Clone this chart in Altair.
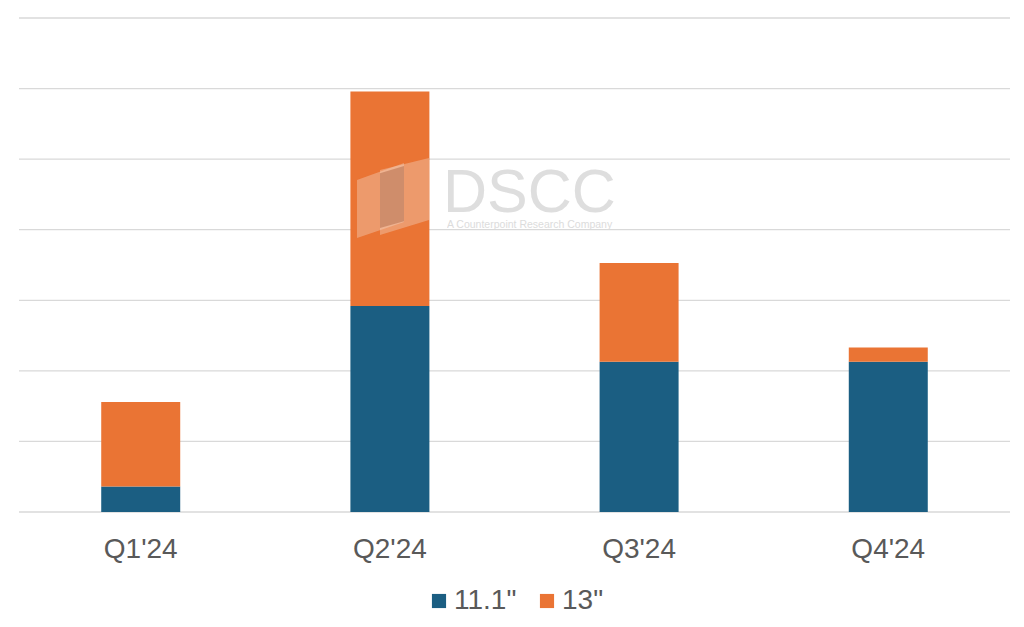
import altair as alt
import pandas as pd

quarters = ["Q1'24", "Q2'24", "Q3'24", "Q4'24"]
series = ['11.1"', '13"']
s11 = [0.36, 2.92, 2.13, 2.13]
s13 = [1.20, 3.04, 1.40, 0.20]
colors = ["#1b5e82", "#ea7434"]
grid_values = [0, 1, 2, 3, 4, 5, 6, 7]

rows = []
for i, q in enumerate(quarters):
    rows.append({"q": q, "s": series[0], "v": s11[i], "o": 0})
    rows.append({"q": q, "s": series[1], "v": s13[i], "o": 1})
df = pd.DataFrame(rows)

yscale = alt.Scale(domain=[0, 7], nice=False)

grid = alt.Chart(pd.DataFrame({"g": grid_values})).mark_rule(
    color="#d9d9d9", strokeWidth=1.3
).encode(y=alt.Y("g:Q", scale=yscale, axis=None))

bars = alt.Chart(df).mark_bar().encode(
    x=alt.X("q:N", sort=quarters, title=None,
            scale=alt.Scale(paddingInner=0.683, paddingOuter=0.33),
            axis=alt.Axis(labelAngle=0, labelFontSize=28, labelColor="#595959",
                          labelFont="Liberation Sans", labelPadding=23,
                          ticks=False, domain=False, grid=False)),
    y=alt.Y("v:Q", stack="zero", title=None, scale=yscale, axis=None),
    color=alt.Color("s:N", sort=series, title=None,
                    scale=alt.Scale(domain=series, range=colors),
                    legend=alt.Legend(orient="none", legendX=406, legendY=569,
                                      direction="horizontal",
                                      symbolType="square", symbolSize=200,
                                      symbolStrokeWidth=0,
                                      labelFontSize=28, labelColor="#595959",
                                      labelFont="Liberation Sans",
                                      labelOffset=1,
                                      columnPadding=16)),
    order=alt.Order("o:Q", sort="ascending"),
)

one = pd.DataFrame({"t": ["DSCC"]})
logo_left = "M-0.9,-0.45L0.275,-0.875L0.275,0.6L-0.9,1Z"
logo_right = "M-0.325,-0.7L0.9,-1L0.9,0.55L-0.325,0.925Z"
logo_mid = "M-0.325,-0.62L0.275,-0.8L0.275,0.58L-0.325,0.75Z"

def logo_piece(path, fill, op):
    return alt.Chart(one).mark_point(
        shape=path, filled=True, fill=fill, opacity=op, size=6400, strokeWidth=0
    ).encode(x=alt.value(374), y=alt.value(180))

wm1 = alt.Chart(one).mark_text(
    fontSize=61, font="Liberation Sans", color="#d9d9d9", opacity=0.85,
    align="left", baseline="alphabetic"
).encode(text="t:N", x=alt.value(424), y=alt.value(194))

wm2 = alt.Chart(pd.DataFrame({"t": ["A Counterpoint Research Company"]})).mark_text(
    fontSize=10.5, font="Liberation Sans", color="#d9d9d9", opacity=0.9,
    align="left", baseline="middle"
).encode(text="t:N", x=alt.value(428), y=alt.value(207))

chart = alt.layer(
    grid, bars,
    logo_piece(logo_left, "#f4e2d6", 0.35),
    logo_piece(logo_right, "#f4e2d6", 0.35),
    logo_piece(logo_mid, "#a8603e", 0.45),
    wm1, wm2,
).properties(
    width=991, height=494,
    autosize=alt.AutoSizeParams(type="none"),
    padding={"left": 11, "top": 10, "right": 4, "bottom": 104},
).configure_view(stroke=None)

chart.save("out.html", embed_options={"renderer": "svg", "actions": False})
